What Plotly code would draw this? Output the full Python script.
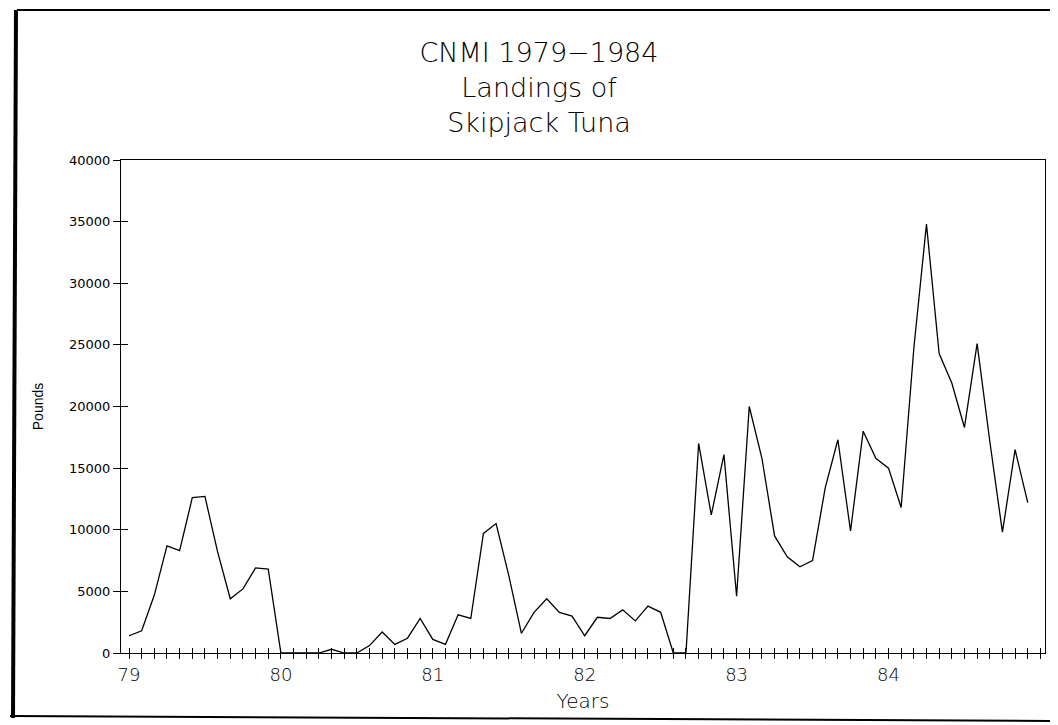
import plotly.graph_objects as go

# ---- data (monthly landings, pounds) ----
years = [1979, 1980, 1981, 1982, 1983, 1984]
year_labels = ["79", "80", "81", "82", "83", "84"]
pounds_1979 = [1400, 1800, 4700, 8700, 8300, 12600, 12700, 8200, 4400, 5200, 6900, 6800]
pounds_1980 = [0, 0, 0, 0, 300, 0, 0, 600, 1700, 700, 1200, 2800]
pounds_1981 = [1100, 700, 3100, 2800, 9700, 10500, 6300, 1600, 3300, 4400, 3300, 3000]
pounds_1982 = [1400, 2900, 2800, 3500, 2600, 3800, 3300, 0, 0, 17000, 11200, 16100]
pounds_1983 = [4600, 20000, 15800, 9500, 7800, 7000, 7500, 13400, 17300, 9900, 18000, 15800]
pounds_1984 = [15000, 11800, 24700, 34800, 24300, 21900, 18300, 25100, 17200, 9800, 16500, 12200]
y_ticks = [0, 5000, 10000, 15000, 20000, 25000, 30000, 35000, 40000]
y_tick_labels = [str(v) for v in y_ticks]

series = [pounds_1979, pounds_1980, pounds_1981, pounds_1982, pounds_1983, pounds_1984]
x_vals, y_vals = [], []
for yr, vals in zip(years, series):
    for m, v in enumerate(vals):
        x_vals.append(yr + m / 12.0)
        y_vals.append(v)

# page body has an 8px margin, so lay out in (reference px - 8)
OFF = 8
W, H = 1050, 717
ML = 121 - OFF
MT = 160 - OFF
MR = W - (1045 - OFF)
MB = H - (653 - OFF)
PW, PH = W - ML - MR, H - MT - MB
px_per_year = 151.9
x0 = 1979 - 8 / px_per_year
x1 = x0 + PW / px_per_year

fig = go.Figure()
fig.add_trace(go.Scatter(x=x_vals, y=y_vals, mode="lines",
                         line=dict(color="black", width=1.3),
                         showlegend=False, hoverinfo="skip"))

tick_font = dict(family="DejaVu Sans", size=13, color="black")
light = dict(family="DejaVu Sans", color="black", weight=200)

fig.update_layout(
    width=W, height=H,
    margin=dict(l=ML, r=MR, t=MT, b=MB),
    paper_bgcolor="white", plot_bgcolor="white",
    title=dict(text="CNMI 1979−1984<br>Landings of<br>Skipjack Tuna",
               x=(539 - OFF) / W, xanchor="center", xref="container",
               y=1 - 54 / H, yanchor="middle", yref="container",
               font=dict(size=27, **light)),
    xaxis=dict(range=[x0, x1], tickmode="array",
               tickvals=years, ticktext=year_labels,
               ticks="outside", ticklen=5, tickcolor="black", tickwidth=1,
               minor=dict(dtick=1 / 12, tick0=1979, ticks="outside", ticklen=5,
                          tickcolor="black", tickwidth=1, showgrid=False),
               showline=True, linecolor="black", linewidth=1.2, mirror=True,
               showgrid=False, zeroline=False,
               tickfont=dict(size=18, **light),
               title=dict(text="Years", font=dict(size=20, **light), standoff=10)),
    xaxis2=dict(overlaying="x", matches="x", anchor="y", side="bottom",
                showticklabels=False, showline=False, showgrid=False, zeroline=False,
                tickmode="array", tickvals=years,
                ticks="inside", ticklen=5, tickcolor="black", tickwidth=1,
                minor=dict(dtick=1 / 12, tick0=1979, ticks="inside", ticklen=5,
                           tickcolor="black", tickwidth=1, showgrid=False)),
    yaxis=dict(range=[0, 40000], tickmode="array", tickvals=y_ticks,
               ticktext=y_tick_labels,
               ticks="outside", ticklen=7, tickcolor="black", tickwidth=1,
               showline=True, linecolor="black", linewidth=1.2, mirror=True,
               showgrid=False, zeroline=False, tickfont=tick_font,
               title=dict(text="Pounds", standoff=22,
                          font=dict(family="Liberation Sans", size=14, color="black"))),
    yaxis2=dict(overlaying="y", matches="y", anchor="x", side="left",
                showticklabels=False, showline=False, showgrid=False, zeroline=False,
                tickmode="array", tickvals=y_ticks,
                ticks="inside", ticklen=7, tickcolor="black", tickwidth=1),
)

# invisible companion trace so the overlay axes are drawn
fig.add_trace(go.Scatter(x=x_vals[:1], y=y_vals[:1], xaxis="x2", yaxis="y2",
                         mode="lines", line=dict(width=0), opacity=0,
                         showlegend=False, hoverinfo="skip"))

# page border of the scanned sheet (reference pixel positions)
def px(xp):
    return (xp - OFF - ML) / PW

def py(yp):
    return 1 - (yp - OFF - MT) / PH

fig.add_shape(type="line", xref="paper", yref="paper",
              x0=px(16), x1=px(13), y0=py(10), y1=py(718),
              line=dict(color="black", width=4))
fig.add_shape(type="line", xref="paper", yref="paper",
              x0=px(17), x1=px(1060), y0=py(10), y1=py(10),
              line=dict(color="black", width=2))
fig.add_shape(type="line", xref="paper", yref="paper",
              x0=px(10), x1=px(1060), y0=py(716), y1=py(721),
              line=dict(color="black", width=2))

fig.write_html("out.html")
